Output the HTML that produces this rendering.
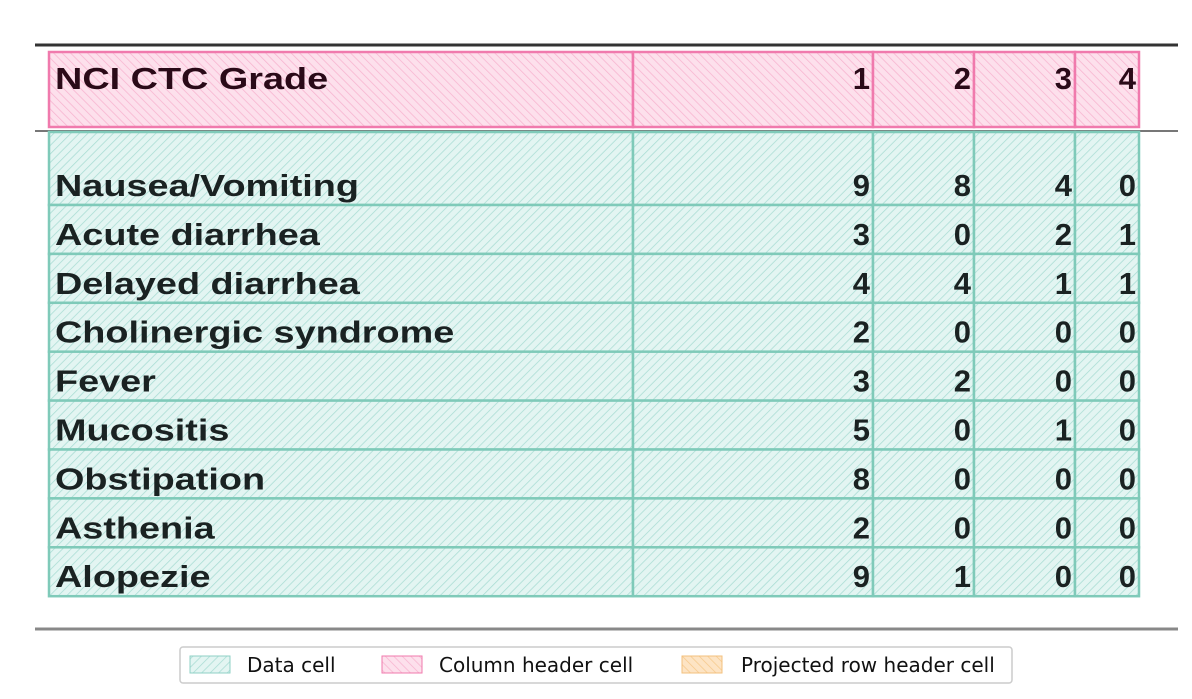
<!DOCTYPE html>
<html><head><meta charset="utf-8"><style>
html,body{margin:0;padding:0;background:#fff;width:1192px;height:699px;overflow:hidden}
svg{display:block}
text{font-family:"Liberation Sans","DejaVu Sans",sans-serif}
.lg{font-family:"DejaVu Sans",sans-serif}
</style></head><body>
<svg id="s" width="1192" height="699">
<defs>
<pattern id="pd" width="6" height="6" patternUnits="userSpaceOnUse" patternTransform="rotate(45)"><rect width="6" height="6" fill="#e3f5f2"/><line x1="0" y1="0" x2="0" y2="6" stroke="#a8dcd3" stroke-width="1.5"/></pattern>
<pattern id="ph" width="6" height="6" patternUnits="userSpaceOnUse" patternTransform="rotate(-45)"><rect width="6" height="6" fill="#fde0ec"/><line x1="0" y1="0" x2="0" y2="6" stroke="#f7b3cf" stroke-width="1.5"/></pattern>
<pattern id="po" width="6" height="6" patternUnits="userSpaceOnUse" patternTransform="rotate(-45)"><rect width="6" height="6" fill="#fde4c4"/><line x1="0" y1="0" x2="0" y2="6" stroke="#f5c88a" stroke-width="1.5"/></pattern>
</defs>
<rect x="0" y="0" width="1192" height="699" fill="#fff"/>
<line x1="35" y1="45" x2="1178" y2="45" stroke="#333" stroke-width="3"/>
<line x1="35" y1="131" x2="1178" y2="131" stroke="#777" stroke-width="2"/>
<line x1="35" y1="629" x2="1178" y2="629" stroke="#888" stroke-width="3"/>
<g id="cells"></g>
<g>
<rect x="180" y="647" width="832" height="36" rx="3" fill="#fff" stroke="#ccc" stroke-width="1.5"/>
<rect x="190" y="656" width="40" height="17" fill="url(#pd)" stroke="#8fd0c6"/>
<text class="lg" x="247" y="672" font-size="20" fill="#111">Data cell</text>
<rect x="382" y="656" width="40" height="17" fill="url(#ph)" stroke="#f07aad"/>
<text class="lg" x="439" y="672" font-size="20" fill="#111">Column header cell</text>
<rect x="682" y="656" width="40" height="17" fill="url(#po)" stroke="#f3c07e"/>
<text class="lg" x="741" y="672" font-size="20" fill="#111">Projected row header cell</text>
</g>
</svg>
<script>
const headers=["NCI CTC Grade","1","2","3","4"];
const rowLabels=["Nausea/Vomiting","Acute diarrhea","Delayed diarrhea","Cholinergic syndrome","Fever","Mucositis","Obstipation","Asthenia","Alopezie"];
const grade1=[9,3,4,2,3,5,8,2,9];
const grade2=[8,0,4,0,2,0,0,0,1];
const grade3=[4,2,1,0,0,1,0,0,0];
const grade4=[0,1,1,0,0,0,0,0,0];
const cols=[49,633,873,974,1075,1139];
const NS="http://www.w3.org/2000/svg";
const g=document.getElementById('cells');
function mk(tag,attrs){const e=document.createElementNS(NS,tag);for(const k in attrs)e.setAttribute(k,attrs[k]);g.appendChild(e);return e;}
function cell(x1,x2,y1,y2,hdr,label,align,ty){
  const r=mk('rect',{x:x1,y:y1,width:x2-x1,height:y2-y1,fill:hdr?'url(#ph)':'url(#pd)',stroke:hdr?'#f07aad':'#7fcab9','stroke-width':2.5});
  
  
  const t=mk('text',{x:align==='end'?x2-3:x1+6,y:ty,'font-size':31,'font-weight':'bold',fill:hdr?'#2a0a18':'#1a2222','text-anchor':align});
  t.textContent=label;
  
  
  if(align==='start'&&label.length>1){
    const w=t.getComputedTextLength();
    t.setAttribute('textLength',(w*1.22).toFixed(1));
    t.setAttribute('lengthAdjust','spacingAndGlyphs');
  }
}
headers.forEach((h,i)=>cell(cols[i],cols[i+1],52,127,true,h,i===0?'start':'end',89));
const vals=[grade1,grade2,grade3,grade4];
const rowH=48.9;
rowLabels.forEach((lab,r)=>{
  const y2=205+r*rowH, y1=r===0?132:y2-rowH, ty=y2-9;
  cell(cols[0],cols[1],y1,y2,false,lab,'start',ty);
  vals.forEach((v,c)=>cell(cols[c+1],cols[c+2],y1,y2,false,String(v[r]),'end',ty));
});
</script>
</body></html>
